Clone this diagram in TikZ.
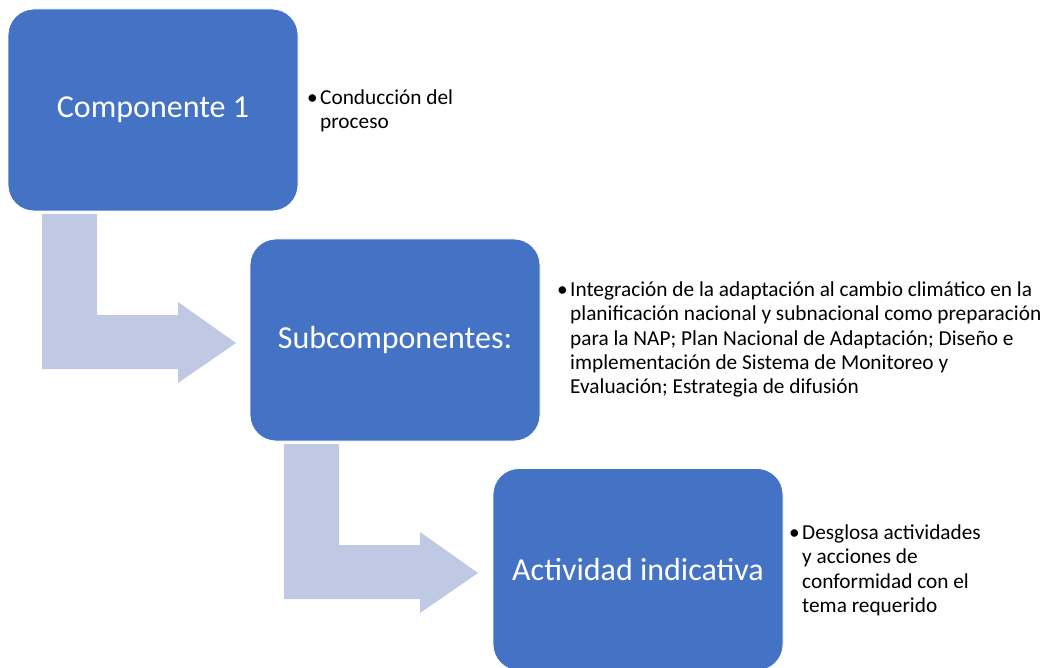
\documentclass[tikz,border=0pt]{standalone}
\usepackage{fontspec}
\setmainfont{Carlito}
\definecolor{boxblue}{HTML}{4472C4}
\definecolor{arrowblue}{HTML}{BFC9E4}
\begin{document}
\begin{tikzpicture}[x=1pt,y=-1pt,
  stage/.style={draw=white,line width=0.8pt,fill=boxblue,rounded corners=26pt,
    minimum width=290pt,minimum height=202pt,inner sep=0pt,text=white,
    font=\fontsize{32}{38}\selectfont},
  bent/.style={fill=arrowblue,draw=none},
  note/.style={anchor=north west,inner sep=0pt,align=left,text=black,
    font=\fontsize{21.3}{24.4}\selectfont}]
\useasboundingbox (0,0) rectangle (1049,668);
% bent arrows
\fill[bent] (42,214) -- (97,214) -- (97,315) -- (178,315) -- (178,302) -- (236,343)
  -- (178,383) -- (178,369) -- (42,369) -- cycle;
\fill[bent] (284,444) -- (339,444) -- (339,545) -- (420,545) -- (420,532) -- (478,573)
  -- (420,613) -- (420,599) -- (284,599) -- cycle;
% boxes
\node[stage] (c1) at (153,110) {Componente 1};
\node[stage] (sub) at (395,340) {Subcomponentes:};
\node[stage] (act) at (638,569.5) {Actividad indicativa};
% notes
\node[note] (n1) at (320,87) {\strut\llap{•\hspace{2.5pt}}Conducción del\\proceso};
\node[note] (n2) at (570,279) {\strut\llap{•\hspace{2.5pt}}Integración de la adaptación al cambio climático en la\\planificación nacional y subnacional como preparación\\para la NAP; Plan Nacional de Adaptación; Diseño e\\implementación de Sistema de Monitoreo y\\Evaluación; Estrategia de difusión};
\node[note] (n3) at (802,522) {\strut\llap{•\hspace{2.5pt}}Desglosa actividades\\y acciones de\\conformidad con el\\tema requerido};
\end{tikzpicture}
\end{document}
